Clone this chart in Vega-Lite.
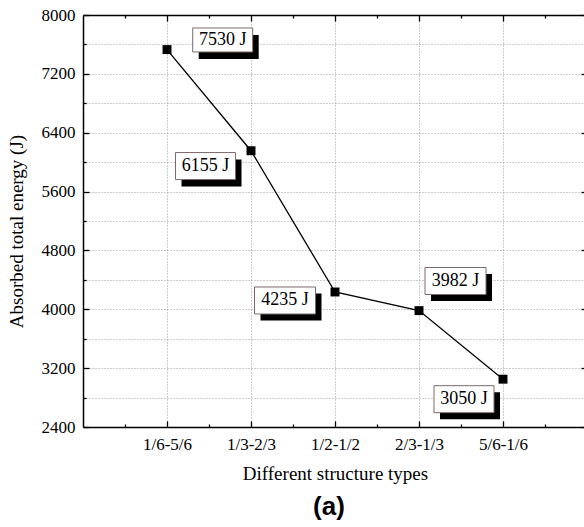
{
  "$schema": "https://vega.github.io/schema/vega-lite/v6.json",
  "width": 504,
  "height": 412,
  "autosize": {"type": "none"},
  "padding": {"left": 83, "top": 15, "right": 0, "bottom": 100},
  "background": "white",
  "config": {
    "view": {"stroke": null},
    "axis": {
      "domainColor": "black",
      "domainWidth": 1.5,
      "tickColor": "black",
      "tickWidth": 1.3,
      "labelFont": "Liberation Serif",
      "labelFontSize": 17,
      "labelColor": "black",
      "titleFont": "Liberation Serif",
      "titleFontSize": 19,
      "titleFontWeight": "normal",
      "titleColor": "black",
      "gridColor": "#9a9a9a",
      "gridDash": [1, 2],
      "gridWidth": 1
    }
  },
  "title": {
    "text": "(a)",
    "orient": "bottom",
    "anchor": "middle",
    "font": "Liberation Sans",
    "fontWeight": "bold",
    "fontSize": 26,
    "color": "black",
    "offset": 11,
    "dx": -6
  },
  "data": {
    "values": [
      {"n": 1, "type": "1/6-5/6", "energy": 7530, "label": "7530 J"},
      {"n": 2, "type": "1/3-2/3", "energy": 6155, "label": "6155 J"},
      {"n": 3, "type": "1/2-1/2", "energy": 4235, "label": "4235 J"},
      {"n": 4, "type": "2/3-1/3", "energy": 3982, "label": "3982 J"},
      {"n": 5, "type": "5/6-1/6", "energy": 3050, "label": "3050 J"}
    ]
  },
  "resolve": {"axis": {"x": "independent", "y": "independent"}},
  "layer": [
    {
      "mark": {"type": "line", "color": "black", "strokeWidth": 1.3},
      "encoding": {
        "x": {
          "field": "n",
          "type": "quantitative",
          "scale": {"domain": [0, 6], "nice": false, "zero": false},
          "axis": {
            "orient": "bottom",
            "values": [0.5, 1, 1.5, 2, 2.5, 3, 3.5, 4, 4.5, 5, 5.5],
            "tickSize": {"condition": {"test": "datum.value % 1 == 0", "value": -6}, "value": -3},
            "grid": true,
            "gridOpacity": {"condition": {"test": "datum.value % 1 == 0", "value": 1}, "value": 0},
            "labelExpr": "datum.value % 1 == 0 ? ['', '1/6-5/6', '1/3-2/3', '1/2-1/2', '2/3-1/3', '5/6-1/6'][datum.value] : ''",
            "labelPadding": 15,
            "labelFlush": false,
            "labelOverlap": false,
            "title": "Different structure types",
            "titlePadding": 9
          }
        },
        "y": {
          "field": "energy",
          "type": "quantitative",
          "scale": {"domain": [2400, 8000], "nice": false, "zero": false},
          "axis": {
            "orient": "left",
            "values": [2400, 2800, 3200, 3600, 4000, 4400, 4800, 5200, 5600, 6000, 6400, 6800, 7200, 7600, 8000],
            "tickSize": {"condition": {"test": "datum.value % 800 == 0", "value": -6}, "value": -3},
            "grid": true,
            "format": "d",
            "labelExpr": "datum.value % 800 == 0 ? datum.label : ''",
            "labelPadding": 14,
            "labelFlush": false,
            "labelOverlap": false,
            "title": "Absorbed total energy (J)",
            "titlePadding": 15,
            "titleY": 216
          }
        }
      }
    },
    {
      "mark": {"type": "point", "shape": "square", "filled": true, "color": "black", "size": 80, "opacity": 1},
      "encoding": {
        "x": {
          "field": "n",
          "type": "quantitative",
          "axis": {
            "orient": "top",
            "values": [0.5, 1, 1.5, 2, 2.5, 3, 3.5, 4, 4.5, 5, 5.5],
            "tickSize": {"condition": {"test": "datum.value % 1 == 0", "value": -6}, "value": -3},
            "grid": false,
            "labels": false,
            "title": null
          }
        },
        "y": {
          "field": "energy",
          "type": "quantitative",
          "axis": {
            "orient": "right",
            "values": [2400, 2800, 3200, 3600, 4000, 4400, 4800, 5200, 5600, 6000, 6400, 6800, 7200, 7600, 8000],
            "tickSize": {"condition": {"test": "datum.value % 800 == 0", "value": -6}, "value": -3},
            "grid": false,
            "labels": false,
            "title": null
          }
        }
      }
    },
    {
      "transform": [{"filter": "datum.n == 1"}],
      "encoding": {
        "x": {"field": "n", "type": "quantitative", "axis": null},
        "y": {"field": "energy", "type": "quantitative", "axis": null},
        "text": {"field": "label"}
      },
      "layer": [
        {"mark": {"type": "rect", "width": 60, "height": 24, "xOffset": 61.7, "yOffset": -2.6, "color": "black"}},
        {"mark": {"type": "rect", "width": 60, "height": 24, "xOffset": 55.7, "yOffset": -9.6, "fill": "white", "stroke": "#7d6a6a", "strokeWidth": 1}},
        {"mark": {"type": "text", "dx": 55.7, "dy": -9.6, "font": "Liberation Serif", "fontSize": 18, "color": "black"}}
      ]
    },
    {
      "transform": [{"filter": "datum.n == 2"}],
      "encoding": {
        "x": {"field": "n", "type": "quantitative", "axis": null},
        "y": {"field": "energy", "type": "quantitative", "axis": null},
        "text": {"field": "label"}
      },
      "layer": [
        {"mark": {"type": "rect", "width": 60, "height": 27, "xOffset": -39.5, "yOffset": 22.3, "color": "black"}},
        {"mark": {"type": "rect", "width": 60, "height": 27, "xOffset": -45.5, "yOffset": 15.3, "fill": "white", "stroke": "#7d6a6a", "strokeWidth": 1}},
        {"mark": {"type": "text", "dx": -45.5, "dy": 15.3, "font": "Liberation Serif", "fontSize": 18, "color": "black"}}
      ]
    },
    {
      "transform": [{"filter": "datum.n == 3"}],
      "encoding": {
        "x": {"field": "n", "type": "quantitative", "axis": null},
        "y": {"field": "energy", "type": "quantitative", "axis": null},
        "text": {"field": "label"}
      },
      "layer": [
        {"mark": {"type": "rect", "width": 61, "height": 27, "xOffset": -44, "yOffset": 15, "color": "black"}},
        {"mark": {"type": "rect", "width": 61, "height": 27, "xOffset": -50, "yOffset": 8.5, "fill": "white", "stroke": "#7d6a6a", "strokeWidth": 1}},
        {"mark": {"type": "text", "dx": -50, "dy": 8.5, "font": "Liberation Serif", "fontSize": 18, "color": "black"}}
      ]
    },
    {
      "transform": [{"filter": "datum.n == 4"}],
      "encoding": {
        "x": {"field": "n", "type": "quantitative", "axis": null},
        "y": {"field": "energy", "type": "quantitative", "axis": null},
        "text": {"field": "label"}
      },
      "layer": [
        {"mark": {"type": "rect", "width": 61, "height": 27, "xOffset": 42.5, "yOffset": -23, "color": "black"}},
        {"mark": {"type": "rect", "width": 61, "height": 27, "xOffset": 36.5, "yOffset": -29.6, "fill": "white", "stroke": "#7d6a6a", "strokeWidth": 1}},
        {"mark": {"type": "text", "dx": 36.5, "dy": -29.6, "font": "Liberation Serif", "fontSize": 18, "color": "black"}}
      ]
    },
    {
      "transform": [{"filter": "datum.n == 5"}],
      "encoding": {
        "x": {"field": "n", "type": "quantitative", "axis": null},
        "y": {"field": "energy", "type": "quantitative", "axis": null},
        "text": {"field": "label"}
      },
      "layer": [
        {"mark": {"type": "rect", "width": 60, "height": 27, "xOffset": -33, "yOffset": 26.5, "color": "black"}},
        {"mark": {"type": "rect", "width": 60, "height": 27, "xOffset": -39, "yOffset": 20, "fill": "white", "stroke": "#7d6a6a", "strokeWidth": 1}},
        {"mark": {"type": "text", "dx": -39, "dy": 20, "font": "Liberation Serif", "fontSize": 18, "color": "black"}}
      ]
    }
  ]
}
